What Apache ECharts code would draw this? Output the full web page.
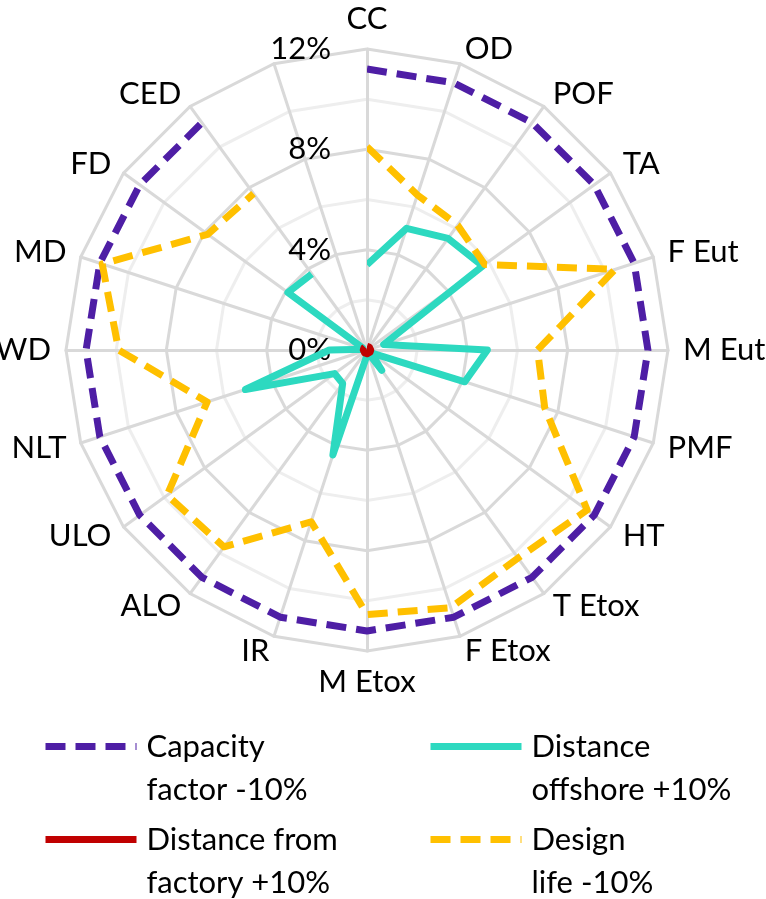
<!DOCTYPE html>
<html>
<head>
<meta charset="utf-8">
<script src="https://cdn.jsdelivr.net/npm/echarts@6/dist/echarts.min.js"></script>
<style>
  html, body { margin: 0; padding: 0; background: #fff; }
  #chart { width: 766px; height: 899px; }
</style>
</head>
<body>
<div id="chart"></div>
<script>
// categories clockwise from the top, last spoke has no name and no data
var categories = ['CC', 'OD', 'POF', 'TA', 'F Eut', 'M Eut', 'PMF', 'HT', 'T Etox', 'F Etox',
    'M Etox', 'IR', 'ALO', 'ULO', 'NLT', 'WD', 'MD', 'FD', 'CED', ''];

var capacityFactor = [11.2, 11.2, 11.2, 11.2, 11.2, 11.2, 11.2, 11.2, 11.2, 11.2,
    11.2, 11.2, 11.2, 11.2, 11.2, 11.2, 11.2, 11.2, 11.2, null];
var distanceOffshore = [3.4, 5.1, 5.5, 5.7, 0.7, 4.8, 4.1, 0.2, 1.0, 0.1,
    0.2, 4.4, 1.65, 1.6, 5.1, 1.5, 0.1, 3.9, 3.75, null];
var distanceFactory = [0.15, 0.15, 0.15, 0.15, 0.15, 0.15, 0.15, 0.15, 0.15, 0.15,
    0.15, 0.15, 0.15, 0.15, 0.15, 0.15, 0.15, 0.15, 0.15, null];
var designLife = [8.1, 6.5, 6.15, 5.8, 10.4, 6.8, 7.45, 10.85, 10.25, 10.8,
    10.55, 7.2, 9.7, 9.85, 6.7, 9.9, 11.1, 7.85, 7.7, null];

var labelledTicks = [0, 4, 8, 12];
var axisMax = 12;

var seriesNames = ['Capacity\nfactor -10%', 'Distance\noffshore +10%',
    'Distance from\nfactory +10%', 'Design\nlife -10%'];

var font = 'Lato';
var cx = 367, cy = 350, R = 301;

var chart = echarts.init(document.getElementById('chart'), null, { renderer: 'canvas' });

// radar spokes run counter-clockwise, so flip the order after the first one
var radarOrder = [0].concat(categories.map(function (c, i) { return i; }).slice(1).reverse());
var indicators = radarOrder.map(function (i) {
    var ind = { name: categories[i], min: 0, max: axisMax };
    if (i === 0) {
        ind.axisLabel = {
            show: true,
            margin: 36,
            fontSize: 31,
            fontFamily: font,
            color: '#000',
            formatter: function (v) { return labelledTicks.indexOf(v) >= 0 ? v + '%' : ''; }
        };
    }
    return ind;
});

function lineSeries(name, values, color, dashed, z) {
    return {
        name: name,
        type: 'line',
        coordinateSystem: 'polar',
        data: values,
        symbol: 'none',
        connectNulls: false,
        z: z,
        silent: true,
        lineStyle: { color: color, width: 7, type: dashed ? [20, 10] : 'solid', join: 'round' },
        itemStyle: { color: color }
    };
}

function legendAt(name, left, top) {
    return {
        data: [name],
        left: left,
        top: top,
        orient: 'vertical',
        padding: 0,
        itemWidth: 91,
        itemHeight: 14,
        selectedMode: false,
        itemStyle: { opacity: 0 },
        lineStyle: { width: 7 },
        // leading empty line keeps the icon level with the first text line
        formatter: function (n) { return '\n' + n; },
        textStyle: { fontFamily: font, fontSize: 31, color: '#000', lineHeight: 43, padding: [0, 0, 0, 5] }
    };
}

var option = {
    backgroundColor: '#fff',
    animation: false,
    radar: {
        center: [cx, cy],
        radius: R,
        startAngle: 90,
        splitNumber: 6,
        shape: 'polygon',
        indicator: indicators,
        nameGap: 15,
        axisName: { color: '#000', fontSize: 31, fontFamily: font },
        axisLine: { lineStyle: { color: '#d9d9d9', width: 3 } },
        axisTick: { show: false },
        axisLabel: { show: false },
        splitLine: { lineStyle: { color: ['#d9d9d9', '#eeeeee'], width: 3 } },
        splitArea: { show: false }
    },
    polar: { center: [cx, cy], radius: R },
    angleAxis: {
        type: 'category',
        data: categories,
        boundaryGap: false,
        startAngle: 90,
        clockwise: true,
        show: false
    },
    radiusAxis: { min: 0, max: axisMax, show: false },
    legend: [
        legendAt(seriesNames[0], 42, 682),
        legendAt(seriesNames[1], 427, 682),
        legendAt(seriesNames[2], 42, 775),
        legendAt(seriesNames[3], 427, 775)
    ],
    series: [
        lineSeries(seriesNames[0], capacityFactor, '#4e1ea5', true, 3),
        lineSeries(seriesNames[1], distanceOffshore, '#2dd9c0', false, 3),
        lineSeries(seriesNames[2], distanceFactory, '#c00000', false, 5),
        lineSeries(seriesNames[3], designLife, '#ffc000', true, 4)
    ]
};

chart.setOption(option);
</script>
</body>
</html>
